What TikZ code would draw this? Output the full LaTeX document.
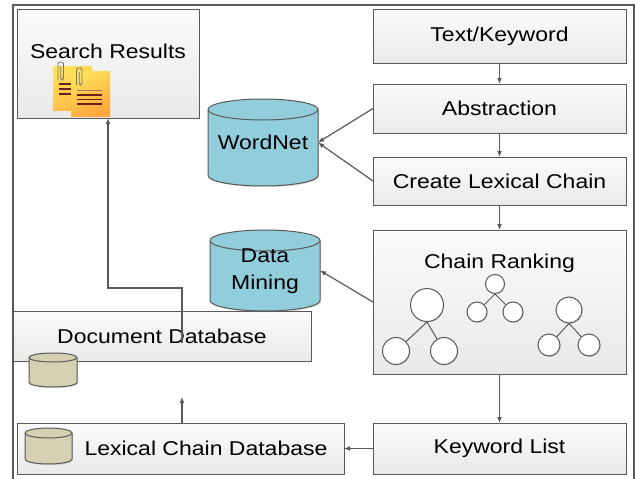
\documentclass[tikz,border=0pt]{standalone}
\usepackage{fontspec}
\setmainfont{Liberation Sans}[FakeStretch=1.15]
\usepackage{tikz}
\usetikzlibrary{arrows.meta,calc,shadows}
\definecolor{lcedge}{RGB}{89,89,89}
\definecolor{lcboxtop}{RGB}{251,251,251}
\definecolor{lcboxbot}{RGB}{233,233,233}
\definecolor{lcblue}{RGB}{146,205,220}
\definecolor{lctan}{RGB}{213,208,178}
\definecolor{lcnotey}{RGB}{255,226,90}
\definecolor{lcnoteo}{RGB}{255,166,62}
\definecolor{lcink}{RGB}{105,32,28}
\definecolor{lcclip}{RGB}{118,118,118}

% drum drawn round an empty node: name, fill, x radius, y radius
\newcommand{\drum}[4]{%
  \filldraw[fill=#2, draw=lcedge, line width=1pt,
      drop shadow={shadow xshift=1.2pt, shadow yshift=-1.2pt, opacity=.25}]
    ([yshift=-#4]#1.north west) -- ([yshift=#4]#1.south west)
    arc[start angle=180, end angle=360, x radius=#3, y radius=#4]
    -- ([yshift=-#4]#1.north east)
    arc[start angle=0, end angle=180, x radius=#3, y radius=#4] -- cycle;
  \draw[lcedge, line width=1pt] ([yshift=-#4]#1.north west)
    arc[start angle=180, end angle=360, x radius=#3, y radius=#4];
}

\begin{document}
\begin{tikzpicture}[
    x=1pt, y=-1pt,
    font=\fontsize{20}{23}\selectfont,
    box/.style={draw=lcedge, line width=1pt, top color=lcboxtop, bottom color=lcboxbot,
      inner sep=0pt, outer sep=0pt,
      drop shadow={shadow xshift=1.2pt, shadow yshift=-1.2pt, opacity=.25}},
    drumbody/.style={rectangle, inner sep=0pt, outer sep=0pt},
    treenode/.style={circle, draw=lcedge, line width=1pt, fill=white, inner sep=0pt,
      drop shadow={shadow xshift=1pt, shadow yshift=-1pt, opacity=.2}},
    twig/.style={draw=lcedge, line width=1pt},
    link/.style={draw=lcedge, line width=1.2pt, -{Latex[length=6pt,width=5pt]}}
  ]
  \useasboundingbox (0,0) rectangle (635,479);

  \draw[lcedge, line width=1.2pt] (13,484) -- (13,5) -- (634,5) -- (634,484);

  \node[box, minimum width=182pt, minimum height=109pt] (results) at (108,63.5) {};
  \node[anchor=base] (results title) at (108,58) {Search Results};

  \node[box, minimum width=253pt, minimum height=54pt] (keyword) at (499.5,36) {Text/Keyword};
  \node[box, minimum width=253pt, minimum height=49pt] (abstraction) at (499.5,108.5) {Abstraction};
  \node[box, minimum width=253pt, minimum height=48pt] (chain) at (499.5,181) {Create Lexical Chain};
  \node[box, minimum width=253pt, minimum height=144pt] (ranking) at (499.5,302) {};
  \node[anchor=base] (ranking title) at (499.5,268) {Chain Ranking};
  \node[box, minimum width=253pt, minimum height=51pt] (list) at (499.5,448.5) {Keyword List};

  \node[box, minimum width=298pt, minimum height=50pt] (docdb) at (162,336) {Document Database};
  \node[box, minimum width=327pt, minimum height=51pt] (lexdb) at (180.5,448.5) {};
  \node (lexdb title) at (206,448) {Lexical Chain Database};

  \node[drumbody, minimum width=110pt, minimum height=87pt] (wordnet) at (263,142.5) {};
  \drum{wordnet}{lcblue}{55pt}{10.5pt}
  \node (wordnet title) at (wordnet) {WordNet};

  \node[drumbody, minimum width=110pt, minimum height=81pt] (mining) at (265,270.5) {};
  \drum{mining}{lcblue}{55pt}{10.5pt}
  \node[align=center, font=\fontsize{20}{27}\selectfont] (mining title) at (265,271) {Data\\Mining};

  \node[drumbody, minimum width=48pt, minimum height=34pt] (docdrum) at (53,370) {};
  \drum{docdrum}{lctan}{24pt}{4.5pt}
  \node[drumbody, minimum width=47pt, minimum height=36pt] (lexdrum) at (48.5,446) {};
  \drum{lexdrum}{lctan}{23.5pt}{5pt}

  \draw[link] (keyword) -- (abstraction);
  \draw[link] (abstraction) -- (chain);
  \draw[link] (chain) -- (ranking);
  \draw[link] (ranking) -- (list);
  \draw[link] (abstraction.west) -- (wordnet.east);
  \draw[link] (chain.west) -- (wordnet.east);
  \draw[link] (ranking.west) -- (mining.east);
  \draw[link] (list) -- (lexdb);
  \coordinate (lexdb up) at (182,397);
  \draw[link] (lexdb.north -| lexdb up) -- (lexdb up);
  \coordinate (docdb out) at (182,343);
  \draw[link] (docdb out) -- ++(0,-55) -| (results.south);

  % sticky notes
  \shade[top color=lcnotey, bottom color=lcnoteo!70!lcnotey, shading angle=25] (53,66) rectangle (92,110);
  \foreach \y in {84,89,94} \draw[lcink, line width=1.6pt] (59,\y) -- (71,\y);
  \draw[lcclip, line width=.9pt, rounded corners=1.5pt] (58,80) -- (58,62) -- (63.5,62) -- (63.5,80) -- (60.7,80) -- (60.7,66);
  \shade[top color=lcnotey, bottom color=lcnoteo, shading angle=25] (71,71) rectangle (110,116);
  \draw[lcink!60, line width=.7pt] (77,90) -- (102,90);
  \foreach \y in {95,99.5,104} \draw[lcink, line width=1.6pt] (77,\y) -- (102,\y);
  \draw[lcclip, line width=.9pt, rounded corners=1.5pt] (76.5,85) -- (76.5,68) -- (82,68) -- (82,85) -- (79.2,85) -- (79.2,72);

  % ranking trees
  \node[treenode, minimum size=33pt] (rootA) at (427,305) {};
  \node[treenode, minimum size=27pt] (leafA1) at (396,351) {};
  \node[treenode, minimum size=27pt] (leafA2) at (444,351) {};
  \node[treenode, minimum size=19pt] (rootB) at (495,284) {};
  \node[treenode, minimum size=20pt] (leafB1) at (477,312) {};
  \node[treenode, minimum size=20pt] (leafB2) at (513,312) {};
  \node[treenode, minimum size=26pt] (rootC) at (569,310) {};
  \node[treenode, minimum size=22pt] (leafC1) at (549,345) {};
  \node[treenode, minimum size=22pt] (leafC2) at (589,345) {};
  \foreach \t in {A,B,C} {
    \draw[twig] (root\t.south) -- (leaf\t1);
    \draw[twig] (root\t.south) -- (leaf\t2);
  }
\end{tikzpicture}
\end{document}
